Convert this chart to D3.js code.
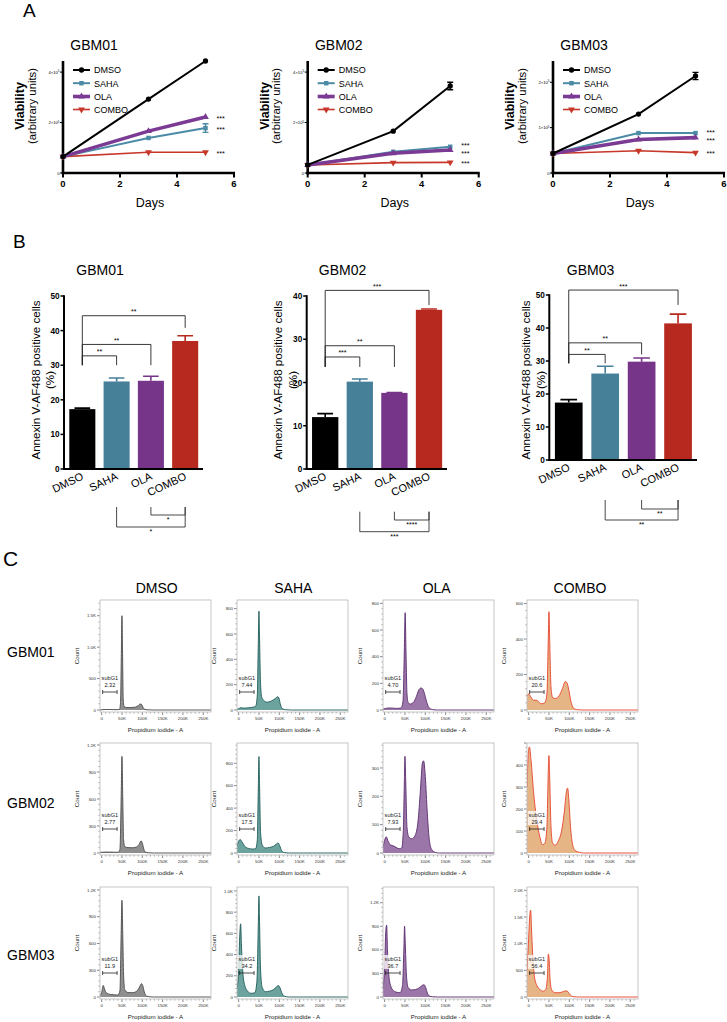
<!DOCTYPE html>
<html><head><meta charset="utf-8">
<script src="https://cdn.jsdelivr.net/npm/d3@7"></script>
<style>body{margin:0;background:#fff}svg{display:block}text{font-family:"Liberation Sans",Arial,Helvetica,sans-serif}</style>
</head><body><svg id="fig" width="727" height="1022"></svg>
<script>
// ---------------- DATA ----------------
const treatments = ["DMSO","SAHA","OLA","COMBO"];
const cellLines = ["GBM01","GBM02","GBM03"];
const days = [0,3,5];
const dayTicks = [0,2,4,6];
// Panel A: viability (x10^5 arbitrary units); rows = DMSO, SAHA, OLA, COMBO
const viabGBM01 = [[0.65,2.93,4.44],[0.65,1.39,1.78],[0.65,1.66,2.22],[0.65,0.82,0.82]];
const viabErrGBM01 = [[0,0.03,0.04],[0,0.05,0.17],[0,0.03,0.04],[0,0.03,0.03]];
const viabGBM02 = [[0.32,1.66,3.45],[0.32,0.84,1.04],[0.32,0.78,0.91],[0.32,0.41,0.42]];
const viabErrGBM02 = [[0,0.04,0.15],[0,0.04,0.05],[0,0.03,0.03],[0,0.02,0.02]];
const viabGBM03 = [[0.43,1.30,2.14],[0.43,0.88,0.88],[0.43,0.74,0.78],[0.43,0.49,0.45]];
const viabErrGBM03 = [[0,0.03,0.08],[0,0.02,0.03],[0,0.02,0.02],[0,0.02,0.02]];
const viabYTicksGBM01 = [0,2,4];
const viabYTicksGBM02 = [0,2,4];
const viabYTicksGBM03 = [0,1,2];
const viabYMax = [4.44,4.44,2.47];
const viabStars = ["***","***","***"]; // SAHA, OLA, COMBO vs DMSO

// Panel B: Annexin V-AF488 positive cells (%)
const annexGBM01 = [17.3,25.3,25.5,37.0];
const annexErrGBM01 = [0.3,1.0,1.3,1.5];
const annexGBM02 = [12.0,20.2,17.6,36.8];
const annexErrGBM02 = [0.8,0.6,0.1,0.2];
const annexGBM03 = [17.4,26.2,29.8,41.4];
const annexErrGBM03 = [0.9,2.2,1.1,2.8];
const annexYTicksGBM01 = [0,10,20,30,40,50];
const annexYTicksGBM02 = [0,10,20,30,40];
const annexYTicksGBM03 = [0,10,20,30,40,50];
// [from, to, label, bracket level, right drop]
const sigTopGBM01 = [[0,3,"**",44.3,40.8],[0,2,"**",36.0,30.0],[0,1,"**",32.7,30.0]];
const sigTopGBM02 = [[0,3,"***",41.3,37.9],[0,2,"**",28.5,23.6],[0,1,"***",25.9,23.6]];
const sigTopGBM03 = [[0,3,"***",51.5,47.0],[0,2,"**",35.5,32.0],[0,1,"**",32.0,29.3]];
const sigBotGBM01 = [[2,3,"*"],[1,3,"*"]];
const sigBotGBM02 = [[2,3,"****"],[1,3,"***"]];
const sigBotGBM03 = [[2,3,"**"],[1,3,"**"]];

// Panel C: PI histograms, points = [PI-A (K), count]
const hGBM01_DMSO = [[-4,2],[0,4],[10,8],[20,8],[30,6],[40,5],[44,10],[46.5,120],[48.5,900],[50,1500],[51.5,900],[53,200],[55,60],[60,40],[70,38],[80,42],[88,60],[95,95],[98,90],[102,40],[106,10],[112,3],[130,0],[269,0]];
const hGBM01_SAHA = [[-4,5],[0,10],[5,18],[15,15],[25,18],[35,22],[42,30],[46,120],[48.5,550],[50,780],[51.5,560],[54,200],[57,100],[62,75],[70,62],[80,70],[90,90],[96,105],[99,95],[103,40],[108,10],[115,2],[130,0],[269,0]];
const hGBM01_OLA = [[-4,5],[0,10],[10,15],[20,14],[30,12],[40,15],[45,60],[48.5,450],[50.5,730],[52.5,450],[55,120],[58,55],[63,45],[70,55],[78,100],[84,150],[90,165],[95,150],[100,100],[105,45],[110,15],[118,3],[130,0],[269,0]];
const hGBM01_COMBO = [[-4,80],[0,90],[5,75],[12,55],[20,55],[25,45],[32,35],[40,42],[45,90],[48.5,420],[50,554],[52,380],[55,130],[59,70],[66,65],[75,80],[83,120],[90,160],[94,155],[99,110],[104,50],[110,12],[118,2],[130,0],[269,0]];
const hGBM02_DMSO = [[-4,5],[0,8],[10,10],[20,10],[30,9],[40,8],[45,40],[48,600],[50,1073],[52,600],[54,150],[57,70],[65,60],[75,58],[85,65],[92,95],[97,135],[100,110],[104,40],[108,10],[115,2],[130,0],[269,0]];
const hGBM02_SAHA = [[-4,60],[0,105],[4,120],[8,100],[15,60],[25,40],[35,35],[42,40],[46,120],[48.5,600],[50,860],[51.5,600],[54,180],[58,70],[66,45],[76,50],[86,60],[93,80],[97,90],[101,65],[106,20],[112,4],[125,0],[269,0]];
const hGBM02_OLA = [[-4,20],[0,45],[4,57],[9,40],[15,28],[22,25],[28,20],[36,15],[42,18],[46,80],[48.5,250],[50,341],[52,250],[55,90],[60,55],[67,50],[75,62],[82,110],[88,220],[93,318],[96,325],[100,270],[105,140],[110,45],[116,12],[125,2],[135,0],[269,0]];
const hGBM02_COMBO = [[-4,300],[0,470],[2,482],[6,420],[12,280],[20,150],[28,70],[34,38],[40,45],[45,120],[48.5,380],[50,443],[52,330],[55,120],[59,45],[65,35],[73,55],[81,100],[88,190],[93,280],[96,295],[99,240],[103,120],[108,40],[114,12],[125,3],[135,0],[269,0]];
const hGBM03_DMSO = [[-4,20],[0,50],[4,130],[7,90],[12,45],[20,30],[30,25],[40,22],[45,70],[48,700],[50,1085],[52,700],[54,250],[57,80],[65,50],[75,48],[85,60],[92,100],[98,149],[101,130],[105,55],[110,12],[118,2],[130,0],[269,0]];
const hGBM03_SAHA = [[-4,80],[0,250],[3,600],[5,690],[7,480],[10,250],[15,110],[22,55],[30,35],[40,40],[45,150],[48.5,700],[50,953],[51.5,700],[54,250],[58,90],[66,50],[76,55],[86,70],[93,95],[98,108],[102,85],[106,40],[112,8],[125,0],[269,0]];
const hGBM03_OLA = [[-4,100],[0,400],[3,850],[5,915],[7,600],[10,300],[15,140],[22,80],[30,60],[38,55],[44,150],[47.5,650],[49,902],[51,650],[54,250],[58,120],[66,90],[76,95],[86,120],[93,150],[97,156],[101,120],[105,50],[110,12],[118,2],[130,0],[269,0]];
const hGBM03_COMBO = [[-4,500],[0,1100],[3,1550],[5,1630],[7,1300],[10,800],[14,400],[20,220],[28,140],[36,110],[42,140],[46,350],[48.5,808],[50.5,700],[53,300],[57,130],[65,80],[75,80],[85,100],[92,115],[96,105],[100,60],[105,20],[112,4],[125,0],[269,0]];
const histYTicksGBM01 = [[0,500,1000,1500],[0,200,400,600,800],[0,200,400,600,800],[0,200,400,600]];
const histYTicksGBM02 = [[0,300,600,900,1200],[0,200,400,600,800],[0,100,200,300],[0,100,200,300,400]];
const histYTicksGBM03 = [[0,300,600,900,1200],[0,200,400,600,800,1000],[0,300,600,900,1200],[0,500,1000,1500,2000]];
const histYMaxGBM01 = [1750,868,825,620];
const histYMaxGBM02 = [1222,980,388,500];
const histYMaxGBM03 = [1233,1037,1400,2063];
const histXTicks = [0,50,100,150,200,250];
const subG1GBM01 = ["2.32","7.44","4.70","20.6"];
const subG1GBM02 = ["2.77","17.5","7.93","29.4"];
const subG1GBM03 = ["11.9","34.2","36.7","56.4"];
const gateRange = [2.5,38];

// ---------------- STYLE ----------------
const svg = d3.select("#fig");
const colA = ["#000000","#4b8ba6","#7b3a93","#c7372a"];
const colB = ["#000000","#467f98","#773589","#b7281f"];
const histFill = ["#8f8f8f","#6da39f","#9b76a8","#e6b585"];
const histStroke = ["#4a4a4a","#1d5b58","#5a2b6e","#e8432c"];
const symbols = [d3.symbolCircle,d3.symbolSquare,d3.symbolTriangle,d3.symbolTriangle];
const symRot = [0,0,0,180];
const lineW = [2,2,3.6,1.6];

function T(g,x,y,s,size,o={}){
  const t=g.append("text").attr("x",x).attr("y",y).attr("font-size",size).text(s);
  if(o.anchor) t.attr("text-anchor",o.anchor);
  if(o.weight) t.attr("font-weight",o.weight);
  if(o.fill) t.attr("fill",o.fill);
  if(o.rot!==undefined) t.attr("transform",`rotate(${o.rot},${x},${y})`);
  return t;
}

// panel letters
T(svg,23,17,"A",19);
T(svg,13,248,"B",19);
T(svg,3,566,"C",21);

// ---------------- PANEL A ----------------
function drawViab(x0, data, err, yTicks, yMax, title){
  const g=svg.append("g");
  const yB=173, yT=61;
  const x=d3.scaleLinear().domain([0,6]).range([x0,x0+171]);
  const y=d3.scaleLinear().domain([0,yMax]).range([yB,yT]);
  T(g,x0+31,50,title,14,{anchor:"middle"});
  g.append("line").attr("x1",x0).attr("x2",x0).attr("y1",yT).attr("y2",yB+1.3).attr("stroke","#000").attr("stroke-width",2.6);
  g.append("line").attr("x1",x0-1.3).attr("x2",x(6)+1).attr("y1",yB).attr("y2",yB).attr("stroke","#000").attr("stroke-width",2.6);
  dayTicks.forEach(t=>{
    g.append("line").attr("x1",x(t)).attr("x2",x(t)).attr("y1",yB).attr("y2",yB+4.5).attr("stroke","#000").attr("stroke-width",2);
    T(g,x(t),yB+14,String(t),9.5,{anchor:"middle",weight:"bold"});
  });
  yTicks.forEach(t=>{
    g.append("line").attr("x1",x0-3).attr("x2",x0).attr("y1",y(t)).attr("y2",y(t)).attr("stroke","#000").attr("stroke-width",1);
    const lab=T(g,x0-3.5,y(t)+1.5,"",4.2,{anchor:"end"});
    if(t===0) lab.text("0"); else { lab.append("tspan").text(t+"×10"); lab.append("tspan").attr("dy",-1.5).attr("font-size",3).text("5"); }
  });
  [3,1,2,0].forEach(i=>{
    const pts=days.map((d,k)=>[d,data[i][k],err[i][k]]);
    g.append("path").datum(pts).attr("d",d3.line().x(d=>x(d[0])).y(d=>y(d[1]))).attr("fill","none").attr("stroke",colA[i]).attr("stroke-width",lineW[i]);
    pts.forEach(p=>{
      if(p[2]>0.05){
        const cx=x(p[0]);
        g.append("path").attr("d",`M${cx},${y(p[1]-p[2])}V${y(p[1]+p[2])}M${cx-3},${y(p[1]-p[2])}H${cx+3}M${cx-3},${y(p[1]+p[2])}H${cx+3}`).attr("stroke",colA[i]).attr("stroke-width",1.4).attr("fill","none");
      }
      g.append("path").attr("d",d3.symbol().type(symbols[i]).size(i===0?22:20)()).attr("transform",`translate(${x(p[0])},${y(p[1])}) rotate(${symRot[i]})`).attr("fill",colA[i]);
    });
  });
  // stars, kept at least 8.2 px apart
  const st=[1,2,3].map(i=>({i,y:y(data[i][2])})).sort((a,b)=>a.y-b.y);
  for(let iter=0;iter<4;iter++) for(let k=1;k<st.length;k++){ const gap=st[k].y-st[k-1].y; if(gap<8.2){ const d=(8.2-gap)/2; st[k-1].y-=d; st[k].y+=d; } }
  st.forEach(s=>T(g,x(5)+11,s.y+3.6,viabStars[s.i-1],7.2));
  const ly=[70,83.2,96.5,109.5];
  treatments.forEach((t,i)=>{
    g.append("line").attr("x1",x0+10).attr("x2",x0+27).attr("y1",ly[i]).attr("y2",ly[i]).attr("stroke",colA[i]).attr("stroke-width",lineW[i]);
    g.append("path").attr("d",d3.symbol().type(symbols[i]).size(i===0?22:20)()).attr("transform",`translate(${x0+18.5},${ly[i]}) rotate(${symRot[i]})`).attr("fill",colA[i]);
    T(g,x0+31,ly[i]+3.3,t,9);
  });
  T(g,x0-39,106,"Viability",12.5,{anchor:"middle",weight:"bold",rot:-90});
  T(g,x0-27.5,106,"(arbitrary units)",11.3,{anchor:"middle",rot:-90});
  T(g,x0+87,207,"Days",12.5,{anchor:"middle"});
}
drawViab(63,viabGBM01,viabErrGBM01,viabYTicksGBM01,viabYMax[0],cellLines[0]);
drawViab(307.7,viabGBM02,viabErrGBM02,viabYTicksGBM02,viabYMax[1],cellLines[1]);
drawViab(553,viabGBM03,viabErrGBM03,viabYTicksGBM03,viabYMax[2],cellLines[2]);

// ---------------- PANEL B ----------------
function drawAnnex(cfg, vals, errs, yTicks, sigTop, sigBot, title){
  const g=svg.append("g");
  const x=d3.scaleBand().domain(treatments).range([cfg.x0+0.5,cfg.x1]).paddingInner(0.24).paddingOuter(0.14);
  const ymaxT=yTicks[yTicks.length-1];
  const y=d3.scaleLinear().domain([0,ymaxT]).range([cfg.y0,cfg.yTop]);
  T(g,cfg.tx,275,title,14,{anchor:"middle"});
  const bw=x.bandwidth();
  treatments.forEach((t,i)=>{
    g.append("rect").attr("x",x(t)).attr("y",y(vals[i])).attr("width",bw).attr("height",cfg.y0-y(vals[i])).attr("fill",colB[i]);
    const cx=x(t)+bw/2, ye=y(vals[i]+errs[i]);
    g.append("path").attr("d",`M${cx},${y(vals[i])}V${ye}M${cx-bw*0.3},${ye}H${cx+bw*0.3}`).attr("stroke",colB[i]).attr("stroke-width",1.6).attr("fill","none");
    T(g,cx+2,cfg.y0+10,t,11,{anchor:"end",rot:-25});
  });
  g.append("line").attr("x1",cfg.x0).attr("x2",cfg.x0).attr("y1",cfg.yTop-0.8).attr("y2",cfg.y0+1).attr("stroke","#000").attr("stroke-width",2);
  g.append("line").attr("x1",cfg.x0-1).attr("x2",cfg.x1).attr("y1",cfg.y0).attr("y2",cfg.y0).attr("stroke","#000").attr("stroke-width",2);
  yTicks.forEach(t=>{
    g.append("line").attr("x1",cfg.x0-3.5).attr("x2",cfg.x0).attr("y1",y(t)).attr("y2",y(t)).attr("stroke","#000").attr("stroke-width",1.5);
    T(g,cfg.x0-4.5,y(t)+3,String(t),8.2,{anchor:"end",weight:"bold"});
  });
  const c=t=>x(treatments[t])+bw/2;
  const leftDrop=d3.min(sigTop,s=>s[4]);
  sigTop.forEach(s=>{
    g.append("path").attr("d",`M${c(s[0])},${y(leftDrop)}V${y(s[3])}H${c(s[1])}V${y(s[4])}`).attr("stroke","#222").attr("stroke-width",0.9).attr("fill","none");
    T(g,(c(s[0])+c(s[1]))/2,y(s[3])-1.5,s[2],7,{anchor:"middle"});
  });
  sigBot.forEach((s,k)=>{
    const ly=cfg.y0+cfg.bot[k];
    g.append("path").attr("d",`M${c(s[0])},${cfg.y0+cfg.botTop}V${ly}H${c(s[1])}V${cfg.y0+cfg.botTop}`).attr("stroke","#333").attr("stroke-width",0.9).attr("fill","none");
    T(g,(c(s[0])+c(s[1]))/2,ly+7,s[2],7,{anchor:"middle"});
  });
  T(g,cfg.x0+cfg.t1,380,"Annexin V-AF488 positive cells",11.6,{anchor:"middle",rot:-90});
  T(g,cfg.x0+cfg.t2,380,"(%)",11.6,{anchor:"middle",rot:-90});
}
drawAnnex({x0:64,x1:203,y0:469,yTop:296,tx:100,bot:[46,58],botTop:38,t1:-24,t2:-10},annexGBM01,annexErrGBM01,annexYTicksGBM01,sigTopGBM01,sigBotGBM01,cellLines[0]);
drawAnnex({x0:306.7,x1:447,y0:469,yTop:296,tx:342.5,bot:[51,62.7],botTop:42.7,t1:-25,t2:-9.7},annexGBM02,annexErrGBM02,annexYTicksGBM02,sigTopGBM02,sigBotGBM02,cellLines[1]);
drawAnnex({x0:549.3,x1:697,y0:460,yTop:295,tx:590.5,bot:[49,60],botTop:40,t1:-19,t2:-4},annexGBM03,annexErrGBM03,annexYTicksGBM03,sigTopGBM03,sigBotGBM03,cellLines[2]);

// ---------------- PANEL C ----------------
const boxLeft=[100,237,383,527], rowTop=[600,743,887], gateOff=[92,86,86];
const colTitleX=[156.7,293.3,436.7,580];
const rowLabelY=[657,808,960];
treatments.forEach((t,i)=>T(svg,colTitleX[i],593,t,14,{anchor:"middle"}));
cellLines.forEach((c,r)=>T(svg,7,rowLabelY[r],c,14));
const histData=[[hGBM01_DMSO,hGBM01_SAHA,hGBM01_OLA,hGBM01_COMBO],[hGBM02_DMSO,hGBM02_SAHA,hGBM02_OLA,hGBM02_COMBO],[hGBM03_DMSO,hGBM03_SAHA,hGBM03_OLA,hGBM03_COMBO]];
const histTicks=[histYTicksGBM01,histYTicksGBM02,histYTicksGBM03];
const histMax=[histYMaxGBM01,histYMaxGBM02,histYMaxGBM03];
const subG1=[subG1GBM01,subG1GBM02,subG1GBM03];
const fmt=v=>v>=1000?(v/1000).toFixed(1)+"K":String(v);
function drawHist(r,c){
  const bx=boxLeft[c], by=rowTop[r], W=111, H=112;
  const pts=histData[r][c], ymax=histMax[r][c], ticks=histTicks[r][c];
  const x=d3.scaleLinear().domain([-4,269]).range([bx,bx+W]);
  const y=d3.scaleLinear().domain([-ymax*2/110,ymax]).range([by+H,by]);
  const g=svg.append("g");
  const id=`cl${r}${c}`;
  g.append("clipPath").attr("id",id).append("rect").attr("x",bx).attr("y",by).attr("width",W).attr("height",H);
  g.append("path").datum(pts).attr("d",d3.area().x(d=>x(d[0])).y0(y(0)).y1(d=>y(d[1])).curve(d3.curveMonotoneX)).attr("fill",histFill[c]).attr("clip-path",`url(#${id})`);
  g.append("path").datum(pts).attr("d",d3.line().x(d=>x(d[0])).y(d=>y(d[1])).curve(d3.curveMonotoneX)).attr("fill","none").attr("stroke",histStroke[c]).attr("stroke-width",0.9).attr("clip-path",`url(#${id})`);
  g.append("rect").attr("x",bx).attr("y",by).attr("width",W).attr("height",H).attr("fill","none").attr("stroke","#b8b8b8").attr("stroke-width",0.8);
  const step=ticks[1]-ticks[0];
  for(let v=0; v<=ymax; v+=step/5){
    const major=Math.abs(v/step-Math.round(v/step))<1e-6;
    g.append("line").attr("x1",bx-(major?3:1.6)).attr("x2",bx-0.4).attr("y1",y(v)).attr("y2",y(v)).attr("stroke","#555").attr("stroke-width",major?0.7:0.5);
  }
  ticks.forEach(v=>T(g,bx-4,y(v)+1.6,fmt(v),4.4,{anchor:"end",fill:"#333"}));
  for(let v=0; v<=265; v+=10){
    const major=v%50===0;
    g.append("line").attr("x1",x(v)).attr("x2",x(v)).attr("y1",by+H+0.4).attr("y2",by+H+(major?3:1.6)).attr("stroke","#555").attr("stroke-width",major?0.7:0.5);
  }
  histXTicks.forEach(v=>T(g,x(v),by+H+7.8,v===0?"0":v+"K",4.4,{anchor:"middle",fill:"#333"}));
  T(g,bx+W/2,by+H+19.5,"Propidium iodide - A",6.2,{anchor:"middle",fill:"#222"});
  T(g,bx-21,by+H/2,"Count",6.2,{anchor:"middle",fill:"#222",rot:-90});
  const gy=by+gateOff[r], gx0=x(gateRange[0]), gx1=x(gateRange[1]), gc=(gx0+gx1)/2;
  g.append("rect").attr("x",gc-9).attr("y",gy-18).attr("width",18).attr("height",14).attr("fill","#fff").attr("opacity",0.75);
  g.append("path").attr("d",`M${gx0},${gy-2}V${gy+2}M${gx0},${gy}H${gx1}M${gx1},${gy-2}V${gy+2}`).attr("stroke","#222").attr("stroke-width",0.8).attr("fill","none");
  T(g,gc,gy-12,"subG1",5.6,{anchor:"middle",fill:"#222"});
  T(g,gc,gy-5.5,subG1[r][c],5.6,{anchor:"middle",fill:"#222"});
}
for(let r=0;r<3;r++) for(let c=0;c<4;c++) drawHist(r,c);
</script></body></html>
